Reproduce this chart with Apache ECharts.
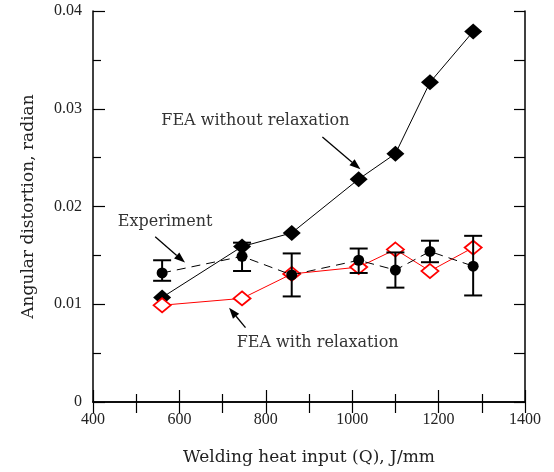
<!doctype html>
<html lang="en">
<head>
<meta charset="UTF-8" />
<title>Angular distortion vs welding heat input</title>
<script src="https://cdn.jsdelivr.net/npm/echarts@6/dist/echarts.min.js"></script>
<style>
  * { margin: 0; padding: 0; }
  html, body { background: #fff; }
  #chart { width: 554px; height: 472px; }
</style>
</head>
<body>
<div id="chart"></div>
<script>
// welding heat input, J/mm
const heatInput = [560, 745, 860, 1015, 1100, 1180, 1280];
// angular distortion, radian
const feaNoRelax = [0.0107, 0.0159, 0.0173, 0.0228, 0.0254, 0.0327, 0.0379];
const feaRelax = [0.0099, 0.0106, 0.0131, 0.0138, 0.0156, 0.0134, 0.0158];
const expMean = [0.0132, 0.0149, 0.0130, 0.0145, 0.0135, 0.0154, 0.0139];
const expLow = [0.0124, 0.0134, 0.0108, 0.0132, 0.0117, 0.0143, 0.0109];
const expHigh = [0.0145, 0.0163, 0.0152, 0.0157, 0.0153, 0.0165, 0.0170];

// annotation text + arrow, in data units
const notes = [
  { text: 'FEA without relaxation', at: [776, 0.0288], from: [931, 0.0271], to: [1019, 0.0238] },
  { text: 'Experiment', at: [567, 0.01846], from: [544, 0.0169], to: [613, 0.01426] },
  { text: 'FEA with relaxation', at: [920, 0.00605], from: [753, 0.0076], to: [715, 0.00964] }
];

const pairs = (ys) => heatInput.map((x, i) => [x, ys[i]]);
const serif = 'Liberation Serif';
const txt = '#222';

const chart = echarts.init(document.getElementById('chart'));

const axisLine = { show: true, lineStyle: { color: '#000', width: 1.5 } };

chart.setOption({
  animation: false,
  grid: { left: 93, right: 29, top: 11, bottom: 70 },
  xAxis: [
    {
      type: 'value', position: 'bottom', min: 400, max: 1400, interval: 200,
      name: 'Welding heat input (Q), J/mm', nameLocation: 'middle', nameGap: 47,
      nameTextStyle: { fontFamily: 'DejaVu Serif', fontSize: 17, color: txt },
      axisLine: axisLine,
      axisTick: { inside: true, length: 12, lineStyle: { color: '#000', width: 1.2 } },
      minorTick: { show: true, splitNumber: 2, length: 8, lineStyle: { color: '#000', width: 1.2 } },
      axisLabel: { fontFamily: serif, fontSize: 16, color: txt, margin: 10, formatter: (v) => String(v) },
      splitLine: { show: false }
    },
    {
      type: 'value', position: 'top', min: 400, max: 1400, interval: 100,
      axisLine: axisLine,
      axisTick: { inside: true, length: 11, lineStyle: { color: '#000', width: 1.2 } },
      axisLabel: { show: false },
      splitLine: { show: false }
    }
  ],
  yAxis: [
    {
      type: 'value', position: 'left', min: 0, max: 0.04, interval: 0.01,
      name: 'Angular distortion, radian', nameLocation: 'middle', nameGap: 56,
      nameTextStyle: { fontFamily: 'DejaVu Serif', fontSize: 17, color: txt },
      axisLine: axisLine,
      axisTick: { inside: true, length: 12, lineStyle: { color: '#000', width: 1.2 } },
      minorTick: { show: true, splitNumber: 2, length: 8, lineStyle: { color: '#000', width: 1.2 } },
      axisLabel: {
        fontFamily: serif, fontSize: 16, color: txt, margin: 11,
        formatter: (v) => (v === 0 ? '0' : v.toFixed(2))
      },
      splitLine: { show: false }
    },
    {
      type: 'value', position: 'right', min: 0, max: 0.04, interval: 0.005,
      axisLine: axisLine,
      axisTick: { inside: true, length: 11, lineStyle: { color: '#000', width: 1.2 } },
      axisLabel: { show: false },
      splitLine: { show: false }
    }
  ],
  series: [
    {
      name: 'FEA without relaxation', type: 'line', data: pairs(feaNoRelax),
      symbol: 'diamond', symbolSize: [18, 16],
      itemStyle: { color: '#000' },
      lineStyle: { color: '#000', width: 1 },
      z: 2
    },
    {
      name: 'FEA with relaxation', type: 'line', data: pairs(feaRelax),
      symbol: 'diamond', symbolSize: [17, 14],
      itemStyle: { color: '#fff', borderColor: '#f00', borderWidth: 1.8 },
      lineStyle: { color: '#f00', width: 1 },
      z: 3
    },
    {
      name: 'Experiment', type: 'line', data: pairs(expMean),
      symbol: 'circle', symbolSize: 11,
      itemStyle: { color: '#000' },
      lineStyle: { color: '#000', width: 1, type: [9, 6] },
      z: 5
    },
    {
      name: 'Experiment range', type: 'custom',
      data: heatInput.map((x, i) => [x, expLow[i], expHigh[i]]),
      renderItem: (params, api) => {
        const x = api.value(0);
        const lo = api.coord([x, api.value(1)]);
        const hi = api.coord([x, api.value(2)]);
        const w = 9;
        const st = { stroke: '#000', lineWidth: 2 };
        return {
          type: 'group',
          children: [
            { type: 'line', shape: { x1: lo[0], y1: lo[1], x2: hi[0], y2: hi[1] }, style: st },
            { type: 'line', shape: { x1: lo[0] - w, y1: lo[1], x2: lo[0] + w, y2: lo[1] }, style: st },
            { type: 'line', shape: { x1: hi[0] - w, y1: hi[1], x2: hi[0] + w, y2: hi[1] }, style: st }
          ]
        };
      },
      z: 4
    }
  ]
});

// annotations: text labels and arrows
const px = (p) => chart.convertToPixel({ xAxisIndex: 0, yAxisIndex: 0 }, p);
const elements = [];
notes.forEach((n) => {
  const c = px(n.at), a = px(n.from), b = px(n.to);
  elements.push({
    type: 'text', x: c[0], y: c[1],
    style: { text: n.text, fill: '#333', font: '16px "DejaVu Serif"', align: 'center', verticalAlign: 'middle' }
  });
  const ang = Math.atan2(b[1] - a[1], b[0] - a[0]);
  const len = 11, half = 4;
  const bx = b[0] - len * Math.cos(ang), by = b[1] - len * Math.sin(ang);
  elements.push({
    type: 'line', shape: { x1: a[0], y1: a[1], x2: bx, y2: by },
    style: { stroke: '#000', lineWidth: 1.3 }
  });
  elements.push({
    type: 'polygon',
    shape: {
      points: [
        [b[0], b[1]],
        [bx + half * Math.sin(ang), by - half * Math.cos(ang)],
        [bx - half * Math.sin(ang), by + half * Math.cos(ang)]
      ]
    },
    style: { fill: '#000' }
  });
});
chart.setOption({ graphic: elements });
</script>
</body>
</html>
